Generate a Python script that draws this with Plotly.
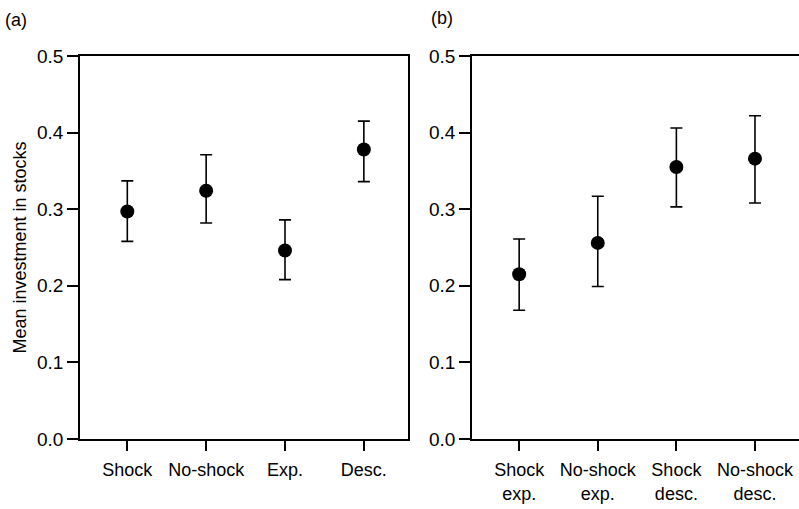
import plotly.graph_objects as go

# Panel (a)
cats_a = ["Shock", "No-shock", "Exp.", "Desc."]
mean_a = [0.297, 0.324, 0.246, 0.378]
hi_a = [0.337, 0.371, 0.286, 0.415]
lo_a = [0.258, 0.282, 0.208, 0.336]

# Panel (b)
cats_b = ["Shock<br>exp.", "No-shock<br>exp.", "Shock<br>desc.", "No-shock<br>desc."]
mean_b = [0.215, 0.256, 0.355, 0.366]
hi_b = [0.261, 0.317, 0.406, 0.422]
lo_b = [0.168, 0.199, 0.303, 0.308]

y_ticks = [0.0, 0.1, 0.2, 0.3, 0.4, 0.5]
y_ticktext = ["0.0", "0.1", "0.2", "0.3", "0.4", "0.5"]

FONT = "Liberation Sans, Arial, sans-serif"

fig = go.Figure()

def add_panel(cats, mean, hi, lo, xa, ya):
    fig.add_trace(go.Scatter(
        x=cats, y=mean, mode="markers",
        marker=dict(color="black", size=14),
        error_y=dict(type="data", symmetric=False,
                     array=[h - m for h, m in zip(hi, mean)],
                     arrayminus=[m - l for m, l in zip(mean, lo)],
                     color="black", thickness=1.6, width=6),
        xaxis=xa, yaxis=ya, showlegend=False, hoverinfo="skip"))

add_panel(cats_a, mean_a, hi_a, lo_a, "x", "y")
add_panel(cats_b, mean_b, hi_b, lo_b, "x2", "y2")

ydom = [70 / 509, 453 / 509]
common_x = dict(type="category", range=[-0.6, 3.56], showline=True, linecolor="black",
                linewidth=1.5, mirror=True, ticks="outside", ticklen=10, tickwidth=1.5,
                tickcolor="black", showgrid=False, zeroline=False, automargin=False,
                ticklabelstandoff=4,
                tickfont=dict(family=FONT, size=18, color="black"))
common_y = dict(range=[0, 0.5], tickvals=y_ticks, ticktext=y_ticktext,
                showline=True, linecolor="black", linewidth=1.5, mirror=True,
                ticks="outside", ticklen=11, tickwidth=1.5, tickcolor="black",
                showgrid=False, zeroline=False, automargin=False,
                tickfont=dict(family=FONT, size=19, color="black"))

fig.update_layout(
    width=799, height=509,
    margin=dict(l=0, r=0, t=0, b=0, autoexpand=False),
    paper_bgcolor="white", plot_bgcolor="white",
    font=dict(family=FONT, color="black"),
    xaxis=dict(common_x, domain=[80 / 799, 408 / 799], anchor="y"),
    yaxis=dict(common_y, domain=ydom, anchor="x",
               title=dict(text="Mean investment in stocks",
                          font=dict(family=FONT, size=18, color="black"), standoff=6)),
    xaxis2=dict(common_x, domain=[472 / 799, 1.0], anchor="y2"),
    yaxis2=dict(common_y, domain=ydom, anchor="x2"),
    annotations=[
        dict(text="(a)", x=3 / 799, y=1 - 20 / 509, xref="paper", yref="paper",
             xanchor="left", yanchor="middle", showarrow=False,
             font=dict(family=FONT, size=18, color="black")),
        dict(text="(b)", x=429 / 799, y=1 - 18 / 509, xref="paper", yref="paper",
             xanchor="left", yanchor="middle", showarrow=False,
             font=dict(family=FONT, size=18, color="black")),
    ],
)

fig.write_html("out.html")
